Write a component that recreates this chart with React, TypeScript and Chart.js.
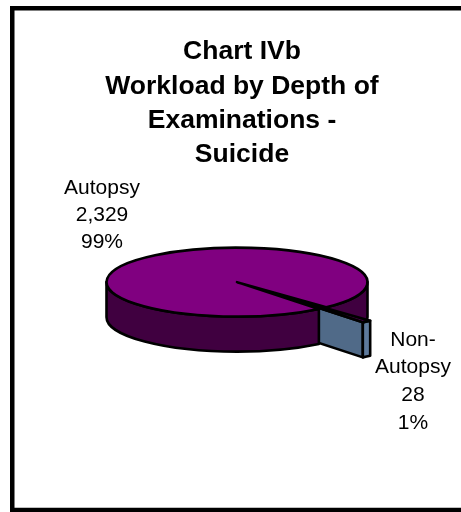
import React, { useEffect, useRef } from "react";
import { Chart, registerables } from "chart.js";

Chart.register(...registerables);

const categories = ["Autopsy", "Non-Autopsy"];
const workload = [2329, 28];
const labelLines = [["Autopsy", "2,329", "99%"], ["Non-", "Autopsy", "28", "1%"]];
const titleLines = ["Chart IVb", "Workload by Depth of", "Examinations -", "Suicide"];
const sliceColors = ["#800080", "#5E7A9C"];
const wallColors = ["#400040", "#506A88"];

const W = 461, H = 512;
const RX = 130.5, SQUASH = 34.5 / 130.5, DEPTH = 35, PIE_SHIFT = -5;
const EXPLODE = 67;
const EDGE = 2.6;
const TAU = Math.PI * 2;

const angles = (slice: any) => {
  const a0 = slice.startAngle % TAU;
  return { a0, a1: a0 + slice.circumference, mid: a0 + slice.circumference / 2 };
};

const pie3d = {
  id: "pie3d",
  afterDatasetsUpdate(chart: any) {
    const [main, slice] = chart.getDatasetMeta(0).data;
    const fix = 1 - Math.sin(Math.min(Math.PI, slice.circumference));
    main.outerRadius = RX;
    slice.outerRadius = RX - EXPLODE * fix;
  },
  beforeDatasetsDraw(chart: any) {
    const { ctx } = chart;
    const [main, slice] = chart.getDatasetMeta(0).data;
    const cx = main.x + PIE_SHIFT, cy = main.y;
    const R = main.outerRadius, r = R * SQUASH;
    const { a0, a1, mid } = angles(slice);
    const ax = cx + Math.cos(mid) * EXPLODE, ay = cy + Math.sin(mid) * EXPLODE * SQUASH;
    const wall = (from: number, to: number) => {
      ctx.beginPath();
      ctx.ellipse(cx, cy, R, r, 0, from, to);
      ctx.ellipse(cx, cy + DEPTH, R, r, 0, to, from, true);
      ctx.closePath();
      ctx.fillStyle = wallColors[0];
      ctx.fill();
      ctx.stroke();
    };
    ctx.save();
    ctx.strokeStyle = "#000";
    ctx.lineWidth = EDGE;
    ctx.lineJoin = "round";
    wall(0, a0);
    // exploded slice: its cut face and its outer face
    const px = ax + Math.cos(a1) * R, py = ay + Math.sin(a1) * r;
    ctx.beginPath();
    ctx.moveTo(ax, ay);
    ctx.lineTo(px, py);
    ctx.lineTo(px, py + DEPTH);
    ctx.lineTo(ax, ay + DEPTH);
    ctx.closePath();
    ctx.fillStyle = wallColors[1];
    ctx.fill();
    ctx.stroke();
    ctx.beginPath();
    ctx.ellipse(ax, ay, R, r, 0, a0, a1);
    ctx.ellipse(ax, ay + DEPTH, R, r, 0, a1, a0, true);
    ctx.closePath();
    ctx.fillStyle = sliceColors[1];
    ctx.fill();
    ctx.stroke();
    wall(a1, Math.PI);
    ctx.restore();
    ctx.save();
    ctx.translate(cx, cy);
    ctx.scale(1, SQUASH);
    ctx.translate(-main.x, -main.y);
  },
  afterDatasetsDraw(chart: any) {
    const { ctx } = chart;
    ctx.restore();
    const [main, slice] = chart.getDatasetMeta(0).data;
    const cx = main.x + PIE_SHIFT, cy = main.y;
    const R = main.outerRadius, r = R * SQUASH;
    const { a0, a1, mid } = angles(slice);
    const ax = cx + Math.cos(mid) * EXPLODE, ay = cy + Math.sin(mid) * EXPLODE * SQUASH;
    ctx.save();
    ctx.strokeStyle = "#000";
    ctx.lineWidth = EDGE;
    ctx.lineJoin = "round";
    ctx.beginPath();
    ctx.moveTo(cx, cy);
    ctx.ellipse(cx, cy, R, r, 0, a1, a0 + TAU);
    ctx.closePath();
    ctx.stroke();
    ctx.beginPath();
    ctx.moveTo(ax, ay);
    ctx.ellipse(ax, ay, R, r, 0, a0, a1);
    ctx.closePath();
    ctx.stroke();
    ctx.restore();
  },
  afterDraw(chart: any) {
    const { ctx } = chart;
    ctx.save();
    ctx.strokeStyle = "#000";
    ctx.lineWidth = 4.5;
    ctx.beginPath();
    ctx.moveTo(W + 5, 8.25);
    ctx.lineTo(12.25, 8.25);
    ctx.lineTo(12.25, 510);
    ctx.lineTo(W + 5, 510);
    ctx.stroke();
    ctx.fillStyle = "#000";
    ctx.font = '21px "Liberation Sans", Arial, sans-serif';
    ctx.textAlign = "center";
    ctx.textBaseline = "middle";
    const place = [{ x: 102, y: 188, step: 27 }, { x: 413, y: 340, step: 27.7 }];
    labelLines.forEach((lines, i) => {
      lines.forEach((t, j) => ctx.fillText(t, place[i].x, place[i].y + j * place[i].step));
    });
    ctx.restore();
  },
};

export default function App() {
  const ref = useRef<HTMLCanvasElement>(null);
  useEffect(() => {
    document.body.style.margin = "0";
    const chart = new Chart(ref.current!, {
      type: "pie",
      data: {
        labels: categories,
        datasets: [{
          data: workload,
          backgroundColor: sliceColors,
          borderWidth: 0,
          offset: [0, EXPLODE * 4],
          hoverOffset: 0,
          clip: false,
        } as any],
      },
      options: {
        responsive: false,
        animation: false,
        events: [],
        rotation: 141.14,
        layout: { padding: { top: 0, left: 23, right: 0, bottom: 123 } },
        plugins: {
          legend: { display: false },
          tooltip: { enabled: false },
          title: {
            display: true,
            text: titleLines,
            color: "#000",
            font: { family: '"Liberation Sans", Arial, sans-serif', size: 26.5, weight: "bold", lineHeight: 1.295 },
            padding: { top: 35, bottom: 3 },
          },
        },
      } as any,
      plugins: [pie3d],
    });
    return () => chart.destroy();
  }, []);
  return <canvas ref={ref} width={W} height={H} style={{ display: "block" }} />;
}
